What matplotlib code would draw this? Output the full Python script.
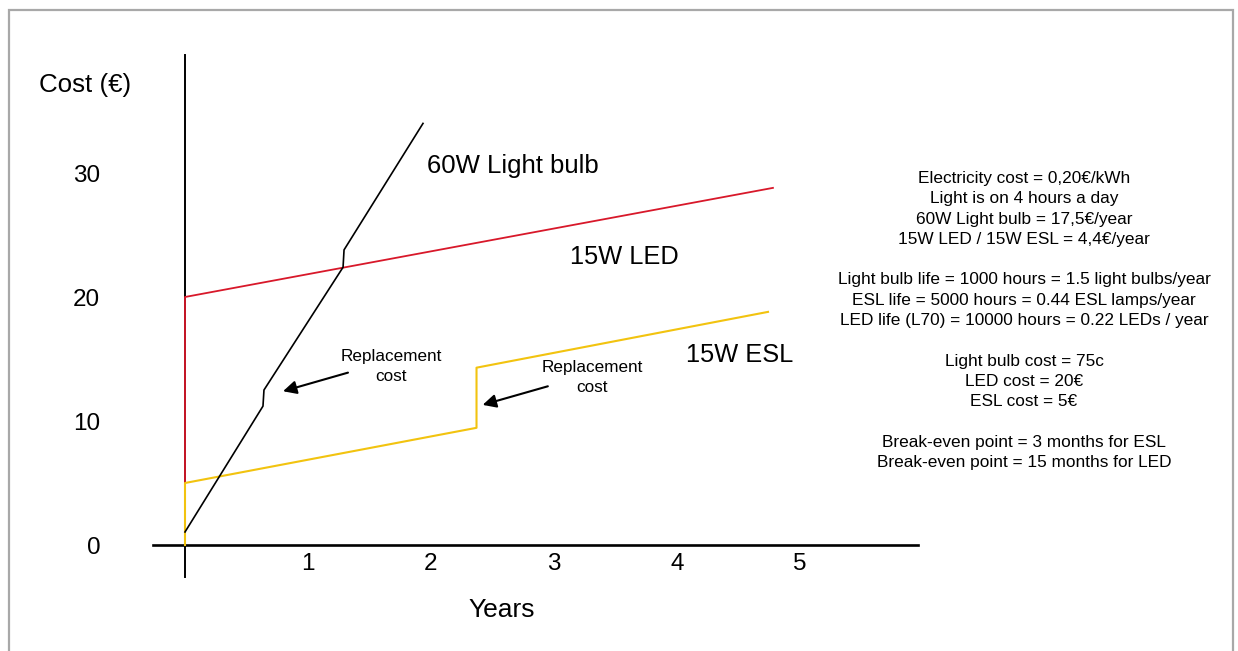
import matplotlib.pyplot as plt
from matplotlib.patches import Rectangle

plt.rcParams['font.family'] = ['Liberation Sans', 'DejaVu Sans']

# --- data (years, euro) ---
bulb_years = [0, 0.634, 0.642, 1.285, 1.293, 1.935]
bulb_cost = [1.05, 11.2, 12.5, 22.4, 23.8, 34.0]

led_years = [0, 0, 4.78]
led_cost = [0, 20, 28.8]

esl_years = [0, 0, 2.37, 2.37, 4.74]
esl_cost = [0, 5, 9.45, 14.3, 18.8]

x_ticks = [1, 2, 3, 4, 5]
y_ticks = [0, 10, 20, 30]

info_lines = [
    "Electricity cost = 0,20€/kWh",
    "Light is on 4 hours a day",
    "60W Light bulb = 17,5€/year",
    "15W LED / 15W ESL = 4,4€/year",
    "",
    "Light bulb life = 1000 hours = 1.5 light bulbs/year",
    "ESL life = 5000 hours = 0.44 ESL lamps/year",
    "LED life (L70) = 10000 hours = 0.22 LEDs / year",
    "",
    "Light bulb cost = 75c",
    "LED cost = 20€",
    "ESL cost = 5€",
    "",
    "Break-even point = 3 months for ESL",
    "Break-even point = 15 months for LED",
]

W, H = 1238, 651
fig = plt.figure(figsize=(W / 100, H / 100), dpi=100)

# pixel layout: year 0 at x=185, 123 px per year; cost 0 at y=545, 12.4 px per euro
x0, px_year = 185, 123
y0, px_euro = 545, 12.4
xlim = (-0.3, 6.0)
ylim = (-2.7, 40)
left = x0 + xlim[0] * px_year
right = x0 + xlim[1] * px_year
bottom = y0 - ylim[0] * px_euro
top = y0 - ylim[1] * px_euro
ax = fig.add_axes([left / W, 1 - bottom / H, (right - left) / W, (bottom - top) / H])
ax.set_xlim(*xlim)
ax.set_ylim(*ylim)
ax.patch.set_visible(False)

# outer grey frame
fig.patches.append(Rectangle((9 / W, -0.05), 1224 / W, 1.05 - 10 / H,
                             transform=fig.transFigure, fill=False,
                             edgecolor='#a8a8a8', linewidth=1.6))

for s in ['top', 'right']:
    ax.spines[s].set_visible(False)
ax.spines['left'].set_position(('data', 0))
ax.spines['bottom'].set_position(('data', 0))
ax.spines['left'].set_bounds(-2.58, 39.5)
ax.spines['bottom'].set_bounds(-0.26, 5.96)
ax.spines['left'].set_linewidth(1.4)
ax.spines['bottom'].set_linewidth(1.9)

ax.set_xticks(x_ticks)
ax.set_yticks(y_ticks)
ax.tick_params(axis='x', length=0, pad=6, labelsize=17.5)
ax.tick_params(axis='y', length=0, pad=61, labelsize=17.5)

ax.plot(led_years, led_cost, color='#d8182a', lw=1.3, zorder=3)
ax.plot(esl_years, esl_cost, color='#f2c30f', lw=1.5, zorder=3)
ax.plot(bulb_years, bulb_cost, color='black', lw=1.2, zorder=3)

ax.text(1.967, 30.6, "60W Light bulb", fontsize=18.5, ha='left', va='center')
ax.text(3.57, 23.2, "15W LED", fontsize=18.3, ha='center', va='center')
ax.text(4.51, 15.3, "15W ESL", fontsize=18.3, ha='center', va='center')

arrow = dict(arrowstyle='-|>', color='black', lw=1.5, mutation_scale=20,
             shrinkA=0, shrinkB=0)
ax.text(1.675, 14.4, "Replacement\ncost", fontsize=12.3, ha='center', va='center',
        linespacing=1.4)
ax.annotate("", xy=(0.797, 12.4), xytext=(1.325, 13.9), arrowprops=arrow)
ax.text(3.31, 13.5, "Replacement\ncost", fontsize=12.3, ha='center', va='center',
        linespacing=1.4)
ax.annotate("", xy=(2.42, 11.3), xytext=(2.95, 12.8), arrowprops=arrow)

fig.text(85 / W, 1 - 85 / H, "Cost (€)", fontsize=18.6, ha='center', va='center')
fig.text(502 / W, 1 - 610 / H, "Years", fontsize=19, ha='center', va='center')
fig.text(1024 / W, 1 - 320.5 / H, "\n".join(info_lines), fontsize=12.4,
         ha='center', va='center', linespacing=1.44)

fig.savefig("out.png", dpi=100)
